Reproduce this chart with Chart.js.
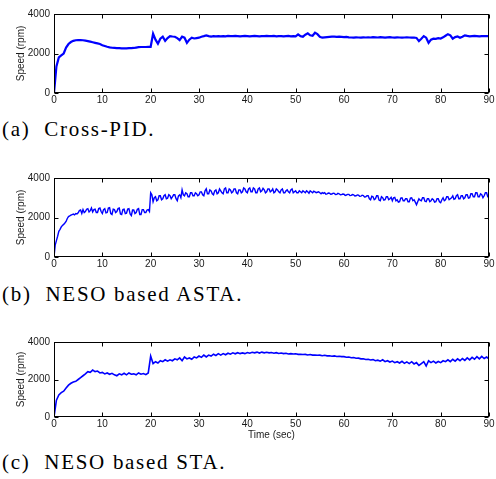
<!DOCTYPE html>
<html>
<head>
<meta charset="utf-8">
<script src="https://cdn.jsdelivr.net/npm/chart.js@4.4.0/dist/chart.umd.min.js"></script>
<style>
  body { margin: 0; background: #fff; width: 496px; height: 479px; position: relative; overflow: hidden; }
  canvas { position: absolute; left: 0; }
  .cap { position: absolute; left: 2px; font-family: "Liberation Serif", serif; font-size: 21px; line-height: 21px; letter-spacing: 1.7px; color: #000; white-space: pre; }
</style>
</head>
<body>
<canvas id="chartPID" width="496" height="112" style="top:0px"></canvas>
<div class="cap" id="capA" style="top:119px">(a)  Cross-PID.</div>
<canvas id="chartASTA" width="496" height="112" style="top:164px"></canvas>
<div class="cap" id="capB" style="top:284px">(b)  NESO based ASTA.</div>
<canvas id="chartSTA" width="496" height="115" style="top:328px"></canvas>
<div class="cap" id="capC" style="top:452px">(c)  NESO based STA.</div>
<script>
// time axis (sec), 0.5 s samples
const time = [
  0, 0.5, 1, 1.5, 2, 2.5, 3, 3.5, 4, 4.5,
  5, 5.5, 6, 6.5, 7, 7.5, 8, 8.5, 9, 9.5,
  10, 10.5, 11, 11.5, 12, 12.5, 13, 13.5, 14, 14.5,
  15, 15.5, 16, 16.5, 17, 17.5, 18, 18.5, 19, 19.5,
  20, 20.5, 21, 21.5, 22, 22.5, 23, 23.5, 24, 24.5,
  25, 25.5, 26, 26.5, 27, 27.5, 28, 28.5, 29, 29.5,
  30, 30.5, 31, 31.5, 32, 32.5, 33, 33.5, 34, 34.5,
  35, 35.5, 36, 36.5, 37, 37.5, 38, 38.5, 39, 39.5,
  40, 40.5, 41, 41.5, 42, 42.5, 43, 43.5, 44, 44.5,
  45, 45.5, 46, 46.5, 47, 47.5, 48, 48.5, 49, 49.5,
  50, 50.5, 51, 51.5, 52, 52.5, 53, 53.5, 54, 54.5,
  55, 55.5, 56, 56.5, 57, 57.5, 58, 58.5, 59, 59.5,
  60, 60.5, 61, 61.5, 62, 62.5, 63, 63.5, 64, 64.5,
  65, 65.5, 66, 66.5, 67, 67.5, 68, 68.5, 69, 69.5,
  70, 70.5, 71, 71.5, 72, 72.5, 73, 73.5, 74, 74.5,
  75, 75.5, 76, 76.5, 77, 77.5, 78, 78.5, 79, 79.5,
  80, 80.5, 81, 81.5, 82, 82.5, 83, 83.5, 84, 84.5,
  85, 85.5, 86, 86.5, 87, 87.5, 88, 88.5, 89, 89.5,
  90
];

// finer time axis (sec), 0.25 s samples, for the noisy ASTA trace
const timeFine = [
  0, 0.25, 0.5, 0.75, 1, 1.25, 1.5, 1.75, 2, 2.25,
  2.5, 2.75, 3, 3.25, 3.5, 3.75, 4, 4.25, 4.5, 4.75,
  5, 5.25, 5.5, 5.75, 6, 6.25, 6.5, 6.75, 7, 7.25,
  7.5, 7.75, 8, 8.25, 8.5, 8.75, 9, 9.25, 9.5, 9.75,
  10, 10.25, 10.5, 10.75, 11, 11.25, 11.5, 11.75, 12, 12.25,
  12.5, 12.75, 13, 13.25, 13.5, 13.75, 14, 14.25, 14.5, 14.75,
  15, 15.25, 15.5, 15.75, 16, 16.25, 16.5, 16.75, 17, 17.25,
  17.5, 17.75, 18, 18.25, 18.5, 18.75, 19, 19.25, 19.5, 19.75,
  20, 20.25, 20.5, 20.75, 21, 21.25, 21.5, 21.75, 22, 22.25,
  22.5, 22.75, 23, 23.25, 23.5, 23.75, 24, 24.25, 24.5, 24.75,
  25, 25.25, 25.5, 25.75, 26, 26.25, 26.5, 26.75, 27, 27.25,
  27.5, 27.75, 28, 28.25, 28.5, 28.75, 29, 29.25, 29.5, 29.75,
  30, 30.25, 30.5, 30.75, 31, 31.25, 31.5, 31.75, 32, 32.25,
  32.5, 32.75, 33, 33.25, 33.5, 33.75, 34, 34.25, 34.5, 34.75,
  35, 35.25, 35.5, 35.75, 36, 36.25, 36.5, 36.75, 37, 37.25,
  37.5, 37.75, 38, 38.25, 38.5, 38.75, 39, 39.25, 39.5, 39.75,
  40, 40.25, 40.5, 40.75, 41, 41.25, 41.5, 41.75, 42, 42.25,
  42.5, 42.75, 43, 43.25, 43.5, 43.75, 44, 44.25, 44.5, 44.75,
  45, 45.25, 45.5, 45.75, 46, 46.25, 46.5, 46.75, 47, 47.25,
  47.5, 47.75, 48, 48.25, 48.5, 48.75, 49, 49.25, 49.5, 49.75,
  50, 50.25, 50.5, 50.75, 51, 51.25, 51.5, 51.75, 52, 52.25,
  52.5, 52.75, 53, 53.25, 53.5, 53.75, 54, 54.25, 54.5, 54.75,
  55, 55.25, 55.5, 55.75, 56, 56.25, 56.5, 56.75, 57, 57.25,
  57.5, 57.75, 58, 58.25, 58.5, 58.75, 59, 59.25, 59.5, 59.75,
  60, 60.25, 60.5, 60.75, 61, 61.25, 61.5, 61.75, 62, 62.25,
  62.5, 62.75, 63, 63.25, 63.5, 63.75, 64, 64.25, 64.5, 64.75,
  65, 65.25, 65.5, 65.75, 66, 66.25, 66.5, 66.75, 67, 67.25,
  67.5, 67.75, 68, 68.25, 68.5, 68.75, 69, 69.25, 69.5, 69.75,
  70, 70.25, 70.5, 70.75, 71, 71.25, 71.5, 71.75, 72, 72.25,
  72.5, 72.75, 73, 73.25, 73.5, 73.75, 74, 74.25, 74.5, 74.75,
  75, 75.25, 75.5, 75.75, 76, 76.25, 76.5, 76.75, 77, 77.25,
  77.5, 77.75, 78, 78.25, 78.5, 78.75, 79, 79.25, 79.5, 79.75,
  80, 80.25, 80.5, 80.75, 81, 81.25, 81.5, 81.75, 82, 82.25,
  82.5, 82.75, 83, 83.25, 83.5, 83.75, 84, 84.25, 84.5, 84.75,
  85, 85.25, 85.5, 85.75, 86, 86.25, 86.5, 86.75, 87, 87.25,
  87.5, 87.75, 88, 88.25, 88.5, 88.75, 89, 89.25, 89.5, 89.75,
  90
];

// (a) Cross-PID speed (rpm), on time
const speedPID = [
  0, 1350, 1800, 1900, 2000, 2300, 2480, 2580, 2640, 2670,
  2680, 2680, 2670, 2650, 2630, 2600, 2570, 2540, 2510, 2480,
  2420, 2380, 2340, 2310, 2290, 2280, 2270, 2270, 2260, 2260,
  2260, 2270, 2270, 2280, 2300, 2320, 2330, 2330, 2330, 2340,
  2340, 3000, 2700, 2500, 2750, 2850, 2640, 2780, 2880, 2860,
  2850, 2780, 2680, 2850, 2800, 2540, 2700, 2800, 2760, 2780,
  2800, 2850, 2880, 2920, 2880, 2860, 2880, 2870, 2880, 2870,
  2880, 2870, 2890, 2880, 2880, 2890, 2880, 2870, 2880, 2890,
  2880, 2870, 2880, 2890, 2880, 2870, 2880, 2880, 2890, 2880,
  2880, 2890, 2870, 2880, 2880, 2870, 2880, 2890, 2870, 2880,
  2870, 2970, 2880, 2850, 2950, 3020, 2920, 2900, 3050, 2980,
  2850, 2800, 2820, 2830, 2840, 2850, 2850, 2840, 2850, 2840,
  2830, 2840, 2820, 2810, 2800, 2820, 2810, 2800, 2820, 2810,
  2820, 2810, 2830, 2820, 2810, 2830, 2820, 2800, 2820, 2830,
  2810, 2800, 2820, 2810, 2800, 2810, 2820, 2810, 2800, 2810,
  2790, 2630, 2750, 2880, 2800, 2540, 2700, 2750, 2740, 2780,
  2760, 2820, 2900, 2980, 2920, 2750, 2830, 2860, 2800, 2850,
  2920, 2890, 2870, 2880, 2890, 2880, 2870, 2880, 2880, 2880,
  2880
];

// (b) NESO based ASTA speed (rpm), on timeFine
const speedASTA = [
  0, 600, 830, 1050, 1300, 1400, 1520, 1600, 1650, 1720,
  1800, 1950, 2050, 2080, 2120, 2150, 2170, 2130, 2200, 2180,
  2240, 2350, 2380, 2200, 2400, 2250, 2300, 2420, 2450, 2280,
  2350, 2480, 2280, 2400, 2420, 2250, 2250, 2450, 2480, 2300,
  2200, 2400, 2450, 2230, 2250, 2480, 2500, 2200, 2150, 2420,
  2400, 2250, 2300, 2450, 2480, 2180, 2150, 2400, 2420, 2200,
  2220, 2430, 2450, 2180, 2100, 2380, 2380, 2200, 2250, 2420,
  2450, 2150, 2150, 2400, 2400, 2250, 2250, 2380, 2400, 2300,
  3250, 3150, 2800, 3000, 3050, 2850, 2900, 3100, 3100, 2900,
  2950, 3100, 3150, 2950, 2980, 3150, 3100, 2950, 3050, 3150,
  3150, 2950, 2850, 3100, 3150, 3000, 3400, 3150, 3100, 3250,
  3200, 3050, 3050, 3250, 3250, 3100, 3100, 3250, 3200, 3100,
  3150, 3300, 3300, 3150, 3100, 3350, 3450, 3200, 3200, 3400,
  3350, 3200, 3150, 3350, 3400, 3200, 3250, 3450, 3350, 3250,
  3200, 3450, 3500, 3250, 3250, 3450, 3400, 3250, 3300, 3450,
  3450, 3250, 3200, 3400, 3400, 3250, 3300, 3500, 3450, 3300,
  3250, 3450, 3500, 3300, 3300, 3500, 3450, 3250, 3250, 3450,
  3500, 3300, 3350, 3480, 3400, 3250, 3300, 3450, 3450, 3300,
  3350, 3450, 3250, 3300, 3450, 3400, 3300, 3250, 3400, 3450,
  3250, 3250, 3350, 3400, 3300, 3250, 3400, 3450, 3250, 3300,
  3350, 3250, 3250, 3350, 3300, 3250, 3350, 3300, 3250, 3350,
  3300, 3230, 3350, 3300, 3250, 3330, 3300, 3260, 3280, 3300,
  3250, 3200, 3260, 3220, 3260, 3180, 3200, 3240, 3230, 3180,
  3190, 3230, 3220, 3160, 3170, 3220, 3200, 3150, 3160, 3190,
  3180, 3120, 3140, 3170, 3170, 3110, 3120, 3160, 3150, 3090,
  3100, 3140, 3130, 3070, 3080, 3130, 3110, 3040, 3050, 3100,
  3100, 2950, 2900, 3080, 3050, 2900, 2950, 3100, 3100, 2880,
  2850, 3050, 3000, 2880, 2900, 3050, 3050, 2900, 2950, 3020,
  2850, 3000, 3020, 2850, 2900, 2780, 2800, 2980, 3000, 2850,
  2850, 2950, 2950, 2800, 2800, 2980, 3000, 2850, 2900, 2780,
  2650, 2800, 2950, 2880, 2850, 3000, 3000, 2820, 2800, 2950,
  2950, 2800, 2850, 2950, 2900, 2780, 2800, 2950, 2950, 2800,
  2750, 2900, 3000, 2850, 2900, 3050, 3050, 2900, 2950, 3000,
  3100, 2920, 2950, 3100, 3150, 2950, 2950, 3100, 3100, 2950,
  3000, 3150, 3150, 2980, 3000, 3200, 3200, 3050, 3050, 3250,
  3250, 3050, 3050, 3200, 3150, 3000, 3100, 3250, 3250, 3050,
  3050
];

// (c) NESO based STA speed (rpm), on time
const speedSTA = [
  0, 900, 1180, 1300, 1380, 1550, 1700, 1800, 1870, 1900,
  2000, 2100, 2200, 2300, 2420, 2380, 2500, 2420, 2450, 2350,
  2380, 2300, 2350, 2280, 2330, 2250, 2200, 2300, 2250, 2330,
  2250, 2350, 2280, 2300, 2250, 2350, 2280, 2320, 2260, 2350,
  3250, 2850, 2950, 2880, 3000, 2950, 3050, 2980, 3050, 3000,
  3100, 3050, 3150, 3000, 3200, 3100, 3150, 3080, 3200, 3150,
  3250, 3180, 3300, 3200, 3300, 3250, 3350, 3280, 3380, 3300,
  3380, 3320, 3400, 3350, 3420, 3370, 3430, 3380, 3420, 3380,
  3440, 3400, 3450, 3420, 3460, 3410, 3460, 3420, 3450, 3420,
  3440, 3400, 3430, 3390, 3410, 3380, 3400, 3360, 3380, 3360,
  3370, 3340, 3350, 3330, 3340, 3310, 3330, 3300, 3310, 3290,
  3300, 3270, 3290, 3260, 3270, 3240, 3260, 3230, 3240, 3220,
  3220, 3190, 3200, 3160, 3170, 3130, 3140, 3100, 3110, 3070,
  3080, 3040, 3060, 3000, 3030, 2980, 3050, 2950, 3000, 2930,
  2980, 2900, 2950, 2880, 2970, 2860, 2940, 2850, 2950, 2830,
  2900, 2750, 2850, 2950, 2720, 3000, 2900, 2980, 2880, 2960,
  2900, 3000, 2950, 3050, 2950, 3080, 2980, 3100, 3000, 3120,
  3020, 3150, 3050, 3180, 3080, 3220, 3100, 3230, 3120, 3200,
  3100
];

const xTicks = [0, 10, 20, 30, 40, 50, 60, 70, 80, 90];
const yTicks = [0, 2000, 4000];

const tickFont = { family: 'Liberation Sans, Arial, sans-serif', size: 10 };

// matlab style box with inward ticks on all four sides
const boxTicks = {
  id: 'boxTicks',
  afterDraw(chart) {
    const { ctx, chartArea: a, scales: { x, y } } = chart;
    const L = Math.round(a.left) + 0.5, R = Math.round(a.right) - 0.5;
    const T = Math.round(a.top) + 0.5, B = Math.round(a.bottom) - 0.5;
    ctx.save();
    ctx.strokeStyle = '#000';
    ctx.lineWidth = 1;
    ctx.beginPath();
    xTicks.forEach(v => {
      const px = Math.round(x.getPixelForValue(v)) + 0.5;
      ctx.moveTo(px, B); ctx.lineTo(px, B - 4);
      ctx.moveTo(px, T); ctx.lineTo(px, T + 4);
    });
    yTicks.forEach(v => {
      const py = Math.round(y.getPixelForValue(v)) + 0.5;
      ctx.moveTo(L, py); ctx.lineTo(L + 4, py);
      ctx.moveTo(R, py); ctx.lineTo(R - 4, py);
    });
    ctx.stroke();
    ctx.strokeRect(L, T, R - L, B - T);
    ctx.restore();
  }
};

function makeChart(id, times, series, lineW, xAxisH, xTitle) {
  return new Chart(document.getElementById(id), {
    type: 'line',
    data: {
      datasets: [{
        data: times.map((t, i) => ({ x: t, y: series[i] })),
        borderColor: '#0000ff',
        borderWidth: lineW,
        pointRadius: 0,
        tension: 0,
        fill: false
      }]
    },
    options: {
      responsive: false,
      animation: false,
      layout: { padding: { top: 14, right: 7, bottom: 0, left: 0 } },
      plugins: { legend: { display: false }, tooltip: { enabled: false } },
      scales: {
        x: {
          type: 'linear',
          min: 0,
          max: 90,
          afterBuildTicks: s => { s.ticks = xTicks.map(v => ({ value: v })); },
          afterFit: s => { s.height = xAxisH; },
          grid: { display: false, drawTicks: false },
          border: { display: false },
          ticks: { font: tickFont, color: '#1a1a1a', padding: 1, maxRotation: 0, callback: v => String(v) },
          title: {
            display: !!xTitle,
            text: xTitle || '',
            font: tickFont,
            color: '#1a1a1a',
            padding: { top: 0, bottom: 2 }
          }
        },
        y: {
          min: 0,
          max: 4000,
          afterBuildTicks: s => { s.ticks = yTicks.map(v => ({ value: v })); },
          afterFit: s => { s.width = 54; },
          grid: { display: false, drawTicks: false },
          border: { display: false },
          ticks: { font: tickFont, color: '#1a1a1a', padding: 4, callback: v => String(v) },
          title: {
            display: true,
            text: 'Speed (rpm)',
            font: tickFont,
            color: '#1a1a1a',
            padding: { top: 15, bottom: 0 }
          }
        }
      }
    },
    plugins: [boxTicks]
  });
}

makeChart('chartPID', time, speedPID, 2.2, 19, null);
makeChart('chartASTA', timeFine, speedASTA, 1.4, 19, null);
makeChart('chartSTA', time, speedSTA, 1.6, 26, 'Time (sec)');
</script>
</body>
</html>
